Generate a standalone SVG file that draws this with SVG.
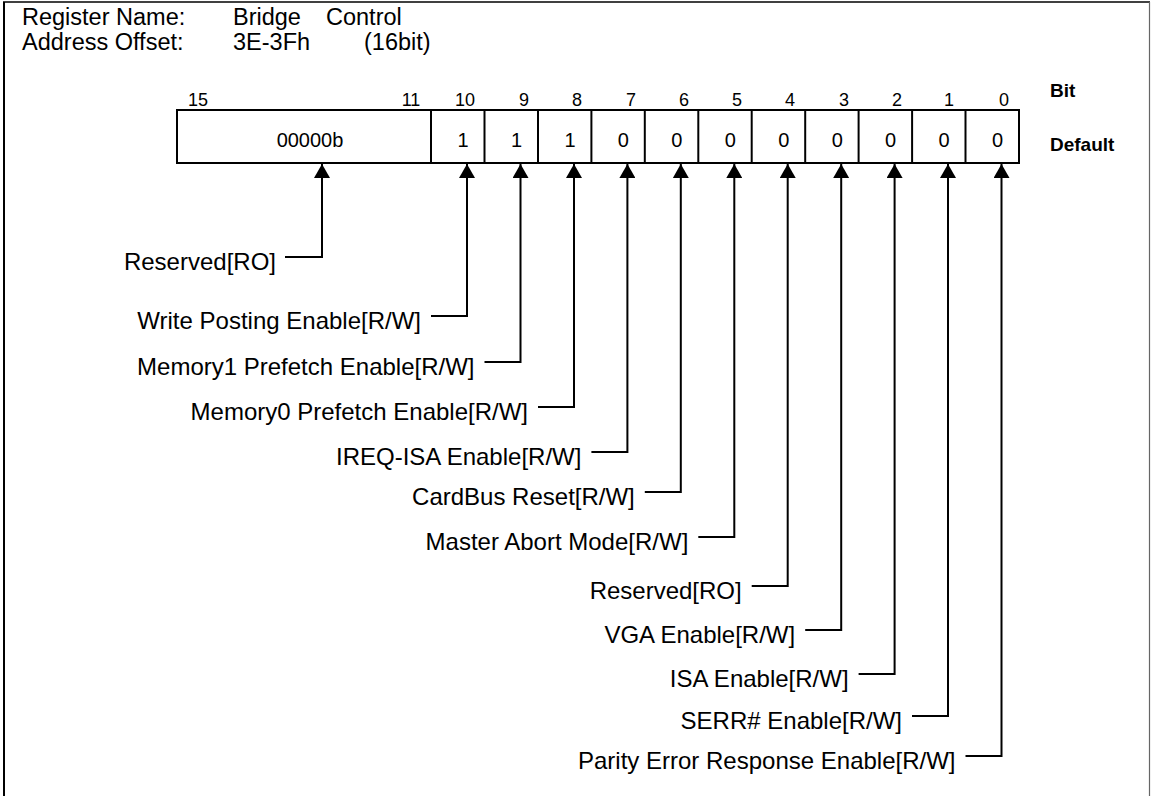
<svg xmlns="http://www.w3.org/2000/svg" width="1151" height="796" viewBox="0 0 1151 796">
<style>
text{font-family:"Liberation Sans",Arial,sans-serif;fill:#000}
.hd{font-size:23.5px}
.lb{font-size:24px;text-anchor:end}
.bn{font-size:18px;text-anchor:middle}
.val{font-size:20px;text-anchor:middle}
.bold{font-size:19px;font-weight:bold}
.cell{fill:#fff;stroke:#000;stroke-width:2}
.div{stroke:#000;stroke-width:2}
.con{fill:none;stroke:#000;stroke-width:2;marker-end:url(#ah)}
</style>
<defs>
<marker id="ah" viewBox="0 0 14 16" refX="14" refY="8" markerWidth="14" markerHeight="16" markerUnits="userSpaceOnUse" orient="auto"><path d="M0,0 L14,8 L0,16 z" fill="#000"/></marker>
</defs>
<rect x="0" y="0" width="1151" height="796" fill="#fff"/>
<g id="frame">
<line x1="3" y1="2" x2="1150" y2="2" stroke="#000" stroke-width="1.5"/>
<line x1="4" y1="2" x2="4" y2="796" stroke="#000" stroke-width="2"/>
<line x1="1149.5" y1="2" x2="1149.5" y2="796" stroke="#666" stroke-width="1.2"/>
</g>
<g id="header">
<text class="hd" x="22" y="25">Register Name:</text>
<text class="hd" x="233" y="25">Bridge</text>
<text class="hd" x="326" y="25">Control</text>
<text class="hd" x="22" y="50">Address Offset:</text>
<text class="hd" x="233" y="50">3E-3Fh</text>
<text class="hd" x="364" y="50">(16bit)</text>
</g>
<g id="bit-numbers">
<text class="bn" x="198" y="106">15</text>
<text class="bn" x="411" y="106">11</text>
<text class="bn" x="465" y="106">10</text>
<text class="bn" x="524" y="106">9</text>
<text class="bn" x="577" y="106">8</text>
<text class="bn" x="631" y="106">7</text>
<text class="bn" x="684" y="106">6</text>
<text class="bn" x="737" y="106">5</text>
<text class="bn" x="790" y="106">4</text>
<text class="bn" x="844" y="106">3</text>
<text class="bn" x="897" y="106">2</text>
<text class="bn" x="949" y="106">1</text>
<text class="bn" x="1004" y="106">0</text>
<text class="bold" x="1050" y="97">Bit</text>
<text class="bold" x="1050" y="151">Default</text>
</g>
<g id="register">
<rect class="cell" x="177" y="110" width="842" height="53"/>
<line class="div" x1="431" y1="110" x2="431" y2="163"/>
<line class="div" x1="484.5" y1="110" x2="484.5" y2="163"/>
<line class="div" x1="538" y1="110" x2="538" y2="163"/>
<line class="div" x1="591.4" y1="110" x2="591.4" y2="163"/>
<line class="div" x1="644.8" y1="110" x2="644.8" y2="163"/>
<line class="div" x1="698.3" y1="110" x2="698.3" y2="163"/>
<line class="div" x1="751.7" y1="110" x2="751.7" y2="163"/>
<line class="div" x1="805.2" y1="110" x2="805.2" y2="163"/>
<line class="div" x1="858.6" y1="110" x2="858.6" y2="163"/>
<line class="div" x1="912.1" y1="110" x2="912.1" y2="163"/>
<line class="div" x1="965.5" y1="110" x2="965.5" y2="163"/>
<text class="val" x="310" y="147">00000b</text>
<text class="val" x="463" y="147">1</text>
<text class="val" x="516.5" y="147">1</text>
<text class="val" x="570" y="147">1</text>
<text class="val" x="623.4" y="147">0</text>
<text class="val" x="676.8" y="147">0</text>
<text class="val" x="730.3" y="147">0</text>
<text class="val" x="783.7" y="147">0</text>
<text class="val" x="837.2" y="147">0</text>
<text class="val" x="890.6" y="147">0</text>
<text class="val" x="944" y="147">0</text>
<text class="val" x="997.5" y="147">0</text>
</g>
<g id="field-15-11"><text class="lb" x="276" y="270">Reserved[RO]</text></g>
<g id="field-10"><text class="lb" x="421" y="329">Write Posting Enable[R/W]</text></g>
<g id="field-9"><text class="lb" x="474.5" y="375">Memory1 Prefetch Enable[R/W]</text></g>
<g id="field-8"><text class="lb" x="528" y="420">Memory0 Prefetch Enable[R/W]</text></g>
<g id="field-7"><text class="lb" x="581.4" y="465">IREQ-ISA Enable[R/W]</text></g>
<g id="field-6"><text class="lb" x="634.8" y="505">CardBus Reset[R/W]</text></g>
<g id="field-5"><text class="lb" x="688.3" y="550">Master Abort Mode[R/W]</text></g>
<g id="field-4"><text class="lb" x="741.7" y="599">Reserved[RO]</text></g>
<g id="field-3"><text class="lb" x="795.2" y="643">VGA Enable[R/W]</text></g>
<g id="field-2"><text class="lb" x="848.6" y="687">ISA Enable[R/W]</text></g>
<g id="field-1"><text class="lb" x="902" y="729">SERR# Enable[R/W]</text></g>
<g id="field-0"><text class="lb" x="955.5" y="769">Parity Error Response Enable[R/W]</text></g>
<g id="connectors">
<path class="con" d="M285,257 H322 V164"/>
<path class="con" d="M431,316 H467 V164"/>
<path class="con" d="M484.5,362 H520.5 V164"/>
<path class="con" d="M538,407 H574 V164"/>
<path class="con" d="M591.4,452 H627.4 V164"/>
<path class="con" d="M644.8,492 H680.8 V164"/>
<path class="con" d="M698.3,537 H734.3 V164"/>
<path class="con" d="M751.7,586 H787.7 V164"/>
<path class="con" d="M805.2,630 H841.2 V164"/>
<path class="con" d="M858.6,674 H894.6 V164"/>
<path class="con" d="M912,716 H948 V164"/>
<path class="con" d="M965.5,756 H1001.5 V164"/>
</g>
</svg>
